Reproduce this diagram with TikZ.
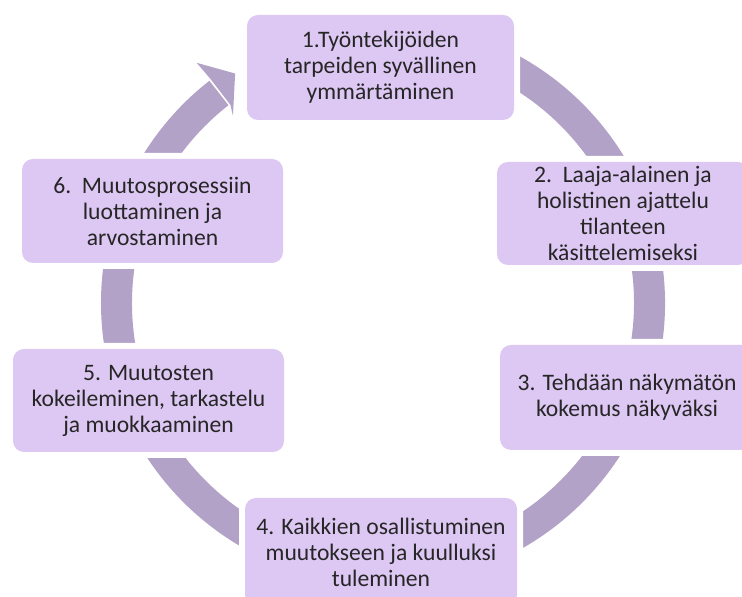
\documentclass[tikz,border=0pt]{standalone}
\usepackage{fontspec}
\setmainfont{Carlito}
\usetikzlibrary{calc}
\definecolor{boxfill}{RGB}{221,199,243}
\definecolor{ringcol}{RGB}{179,162,199}
\definecolor{txtcol}{RGB}{38,38,38}
\tikzset{
  stagebox/.style={rounded corners=11pt, fill=boxfill, text=txtcol, align=center,
    inner sep=0pt, font=\fontsize{23.6}{26}\selectfont},
  halo/.style={rounded corners=14pt, fill=white},
}
\newcommand{\stage}[6]{%
  % #1 name, #2 x, #3 y, #4 w, #5 h, #6 text
  \fill[halo] (#2pt-#4pt/2-6pt,#3pt-#5pt/2-6pt) rectangle (#2pt+#4pt/2+6pt,#3pt+#5pt/2+6pt);
  \node[stagebox, minimum width=#4pt, minimum height=#5pt] (#1) at (#2pt,#3pt) {#6};
}
\begin{document}
\begin{tikzpicture}[x=1pt,y=1pt]
\useasboundingbox (0,0) rectangle (742,597);
\clip (0,0) rectangle (742,597);
\coordinate (c) at (383,294);
% ring with arrow
\fill[ringcol] ($(c)+(100:282pt)$) arc[start angle=100, end angle=-232, radius=282pt]
  -- ($(c)+(128:251pt)$) arc[start angle=-232, end angle=100, radius=251pt] -- cycle;
\fill[ringcol] ($(c)+(127.8:304pt)$) -- ($(c)+(122.8:273pt)$) -- ($(c)+(128.7:240pt)$) -- ($(c)+(127.6:250pt)$) -- ($(c)+(127.6:283pt)$) -- cycle;
% stages
\stage{s1}{380.5}{529.5}{267}{105}{1.Työntekijöiden\\tarpeiden syvällinen\\ymmärtäminen}
\stage{s2}{623}{383.5}{252}{103}{2.\ \ Laaja-alainen ja\\holistinen ajattelu\\tilanteen\\käsittelemiseksi}
\stage{s3}{627}{199.5}{254}{105}{3. Tehdään näkymätön\\kokemus näkyväksi}
\stage{s4}{381}{45}{272}{108}{4. Kaikkien osallistuminen\\muutokseen ja kuulluksi\\tuleminen}
\stage{s5}{148.5}{196.5}{271}{103}{5. Muutosten\\kokeileminen, tarkastelu\\ja muokkaaminen}
\stage{s6}{152.5}{386}{261}{104}{6.\ \ Muutosprosessiin\\luottaminen ja\\arvostaminen}
\end{tikzpicture}
\end{document}
